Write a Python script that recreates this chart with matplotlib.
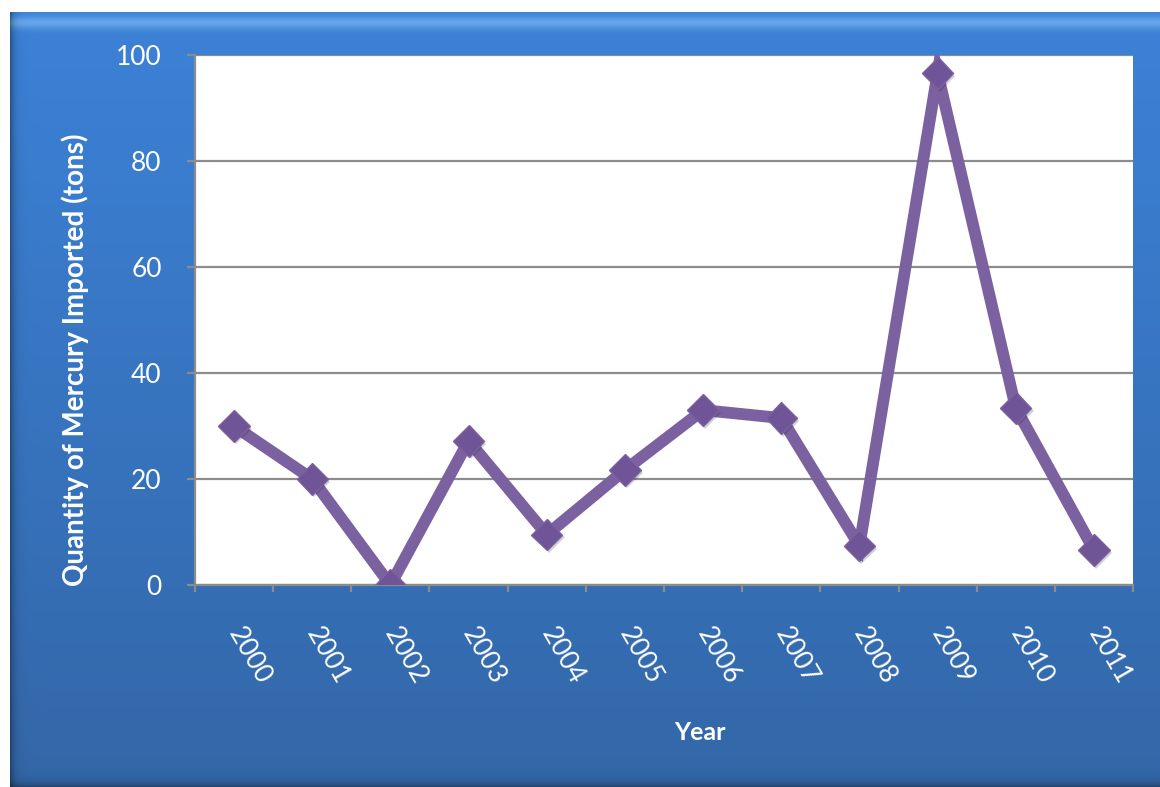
import numpy as np
import matplotlib
matplotlib.use("Agg")
from matplotlib import pyplot as plt
from matplotlib import patheffects as pe

plt.rcParams['font.family'] = ['Lato', 'DejaVu Sans']

years = ['2000', '2001', '2002', '2003', '2004', '2005',
         '2006', '2007', '2008', '2009', '2010', '2011']
mercury = [30.0, 20.0, 0.0, 27.2, 9.5, 21.7, 33.0, 31.5, 7.4, 96.6, 33.4, 6.6]
y_ticks = [0, 20, 40, 60, 80, 100]

W, H = 1160, 787
fig = plt.figure(figsize=(W / 100, H / 100), dpi=100, facecolor='white')

# blue glossy panel behind the chart
bg = fig.add_axes([10 / W, 0, 1150 / W, (H - 12) / H])
bg.axis('off')
ph, pw = 775, 1150
t = np.linspace(0, 1, ph)[:, None]
top = np.array([0x3c, 0x82, 0xd8]) / 255
bot = np.array([0x33, 0x67, 0xa8]) / 255
img = top[None, None, :] * (1 - t[..., None]) + bot[None, None, :] * t[..., None]
img = np.repeat(img, pw, axis=1)
# highlight band at the top
hl = np.exp(-((np.arange(ph) - 10) / 6.0) ** 2)[:, None, None]
img = img * (1 - 0.5 * hl) + np.array([0.55, 0.80, 1.0]) * 0.5 * hl
# darker edges
edge_l = np.exp(-(np.arange(pw) / 4.0))[None, :, None]
img = img * (1 - 0.35 * edge_l)
edge_b = np.exp(-((ph - 1 - np.arange(ph)) / 5.0))[:, None, None]
img = img * (1 - 0.3 * edge_b)
bg.imshow(np.clip(img, 0, 1), aspect='auto', extent=[0, 1, 0, 1])

ax = fig.add_axes([195 / W, 202 / H, 938 / W, 530 / H])
ax.set_facecolor('white')
x = np.arange(len(years))
ax.plot(x, mercury, color='#7b61a0', linewidth=8.5, solid_joinstyle='miter', zorder=3)
ax.plot(x, mercury, linestyle='none', marker='D', markersize=16,
        markerfacecolor='#6f5498', markeredgecolor='#7b61a0', markeredgewidth=1,
        zorder=4,
        path_effects=[pe.SimplePatchShadow(offset=(1.5, -2), alpha=0.2), pe.Normal()])

ax.set_xlim(-0.5, len(years) - 0.5)
ax.set_ylim(0, 100)
ax.set_yticks(y_ticks)
ax.grid(axis='y', color='#8c8c8c', linewidth=1.6, zorder=1)
ax.set_axisbelow(True)
for s in ['top', 'right']:
    ax.spines[s].set_visible(False)
for s in ['left', 'bottom']:
    ax.spines[s].set_color('#8c8c8c')
    ax.spines[s].set_linewidth(1.6)

ax.set_xticks(x)
ax.set_xticklabels(years, rotation=-60, rotation_mode='anchor', ha='left', va='center')
ax.set_xticks(np.arange(-0.5, len(years)), minor=True)
ax.tick_params(axis='x', which='major', length=0, pad=32, labelsize=19, labelcolor='white')
ax.tick_params(axis='x', which='minor', length=5, width=1.6, color='#8c8c8c')
ax.tick_params(axis='y', length=6, width=1.6, color='#8c8c8c', pad=18,
               labelsize=19, labelcolor='white')

fig.text(75 / W, 1 - 360 / H, 'Quantity of Mercury Imported (tons)', rotation=90,
         ha='center', va='center', color='white', fontsize=20, fontweight='bold')
fig.text(700 / W, 1 - 733 / H, 'Year', ha='center', va='center',
         color='white', fontsize=18, fontweight='bold')

fig.savefig('out.png', dpi=100)
